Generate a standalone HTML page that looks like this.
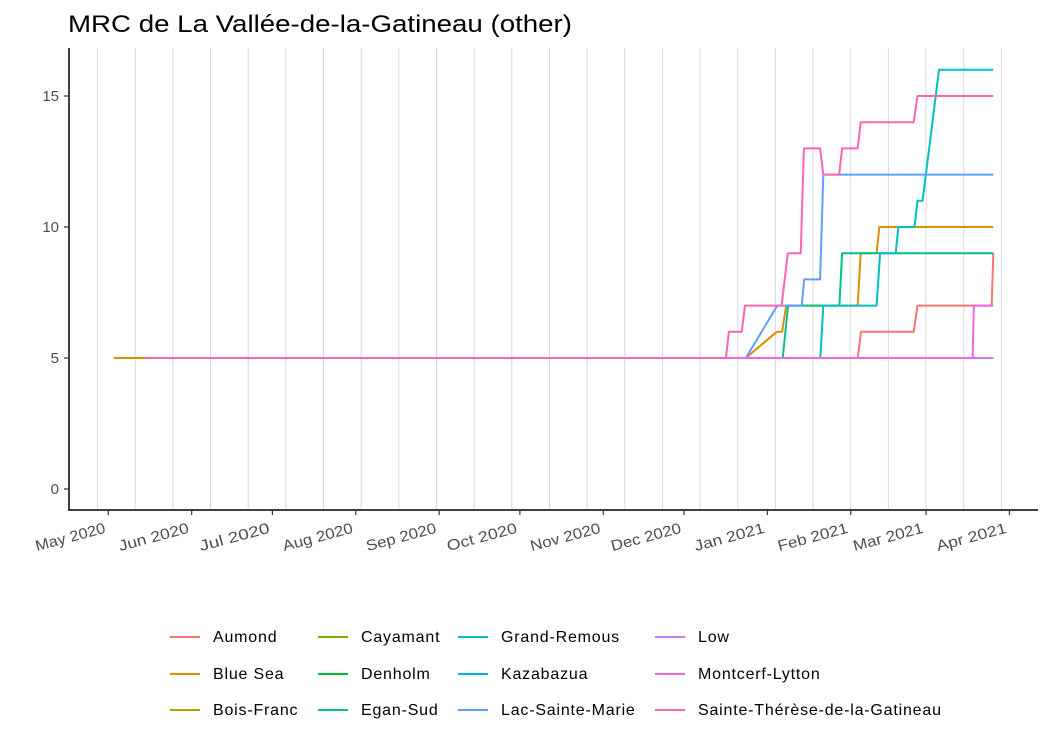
<!DOCTYPE html>
<html><head><meta charset="utf-8"><style>
body{margin:0;background:#fff}
svg{display:block;font-family:"Liberation Sans",Arial,sans-serif}
</style></head><body>
<svg id="chart" width="1050" height="750"></svg>
<script>
const seriesNames=["Aumond","Blue Sea","Bois-Franc","Cayamant","Denholm","Egan-Sud","Grand-Remous","Kazabazua","Lac-Sainte-Marie","Low","Montcerf-Lytton","Sainte-Thérèse-de-la-Gatineau"];
const seriesColors=["#F8766D","#DE8C00","#B79F00","#7CAE00","#00BA38","#00C08B","#00BFC4","#00B4F0","#619CFF","#C77CFF","#F564E3","#FF64B0"];
// days since 2020-05-01
const aumondDays=[14,278.6,279.8,299.4,300.8,328.4,329];
const aumondVals=[5,5,6,6,7,7,9];
const blueSeaDays=[2,237,248.5,250.5,252,278.6,279.7,285.6,286.6,329];
const blueSeaVals=[5,5,6,6,7,7,9,9,10,10];
const flatDays=[14,329];
const flatVals=[5,5];
const eganDays=[14,250.7,252.7,271.8,272.8,329];
const eganVals=[5,5,7,7,9,9];
const grandDays=[14,264.7,265.8,285.6,286.9,292.7,293.7,299.7,300.8,302.7,308.8,329];
const grandVals=[5,5,7,7,9,9,10,10,11,11,16,16];
const lacDays=[14,237,248.7,257.8,258.7,264.6,265.8,329];
const lacVals=[5,5,7,7,8,8,12,12];
const montDays=[14,321.3,321.8,329];
const montVals=[5,5,7,7];
const steDays=[13.6,229.6,230.7,235.5,236.7,250.3,252.6,257.4,258.6,264.6,265.8,271.7,272.8,278.6,279.7,299.4,300.8,329];
const steVals=[5,5,6,6,7,7,9,9,13,13,12,12,13,13,14,14,15,15];
const seriesDays=[aumondDays,blueSeaDays,flatDays,flatDays,flatDays,eganDays,grandDays,flatDays,lacDays,flatDays,montDays,steDays];
const seriesVals=[aumondVals,blueSeaVals,flatVals,flatVals,flatVals,eganVals,grandVals,flatVals,lacVals,flatVals,montVals,steVals];
const yTicks=[0,5,10,15];
const monthLabels=["May 2020","Jun 2020","Jul 2020","Aug 2020","Sep 2020","Oct 2020","Nov 2020","Dec 2020","Jan 2021","Feb 2021","Mar 2021","Apr 2021"];
const monthDays=[0,31,61,92,123,153,184,214,245,276,304,335];

const NS="http://www.w3.org/2000/svg";
const svg=document.getElementById('chart');
const X=d=>108.3+2.69*d;
const Y=v=>489-26.2*v;
function mk(tag,attrs,parent){const e=document.createElementNS(NS,tag);for(const k in attrs)e.setAttribute(k,attrs[k]);(parent||svg).appendChild(e);return e;}

const title=mk('text',{x:68,y:32,'font-size':24,fill:'#000',textLength:504,lengthAdjust:'spacingAndGlyphs'});
title.textContent="MRC de La Vallée-de-la-Gatineau (other)";



const grid=mk('g',{});


for(let d=-4;d<=335;d+=14){
  const l=mk('line',{x1:X(d),x2:X(d),y1:48,y2:510,stroke:'#d9d9d9','stroke-width':1},grid);
  
  
}

const lines=mk('g',{fill:'none','stroke-width':2,'stroke-linejoin':'round'});


for(let i=0;i<seriesNames.length;i++){
  const pts=seriesDays[i].map((d,j)=>X(d).toFixed(1)+','+Y(seriesVals[i][j]).toFixed(1)).join(' ');
  const p=mk('polyline',{points:pts,stroke:seriesColors[i]},lines);
  
  
}

const yAxis=mk('g',{});


mk('line',{x1:69,x2:69,y1:48,y2:510.5,stroke:'#000','stroke-width':1.5},yAxis);
yTicks.forEach(v=>{
  mk('line',{x1:64,x2:69,y1:Y(v),y2:Y(v),stroke:'#333','stroke-width':1.2},yAxis);
  const t=mk('text',{x:59,y:Y(v)+5,'font-size':15,fill:'#4d4d4d','text-anchor':'end'},yAxis);
  t.textContent=v;
  
  
});

const xAxis=mk('g',{});


mk('line',{x1:68.3,x2:1038,y1:510,y2:510,stroke:'#000','stroke-width':1.5},xAxis);
monthDays.forEach((d,i)=>{
  const x=X(d);
  mk('line',{x1:x,x2:x,y1:510,y2:515,stroke:'#333','stroke-width':1.2},xAxis);
  const t=mk('text',{x:x-2,y:532,'font-size':15,fill:'#4d4d4d','text-anchor':'end',textLength:72,lengthAdjust:'spacingAndGlyphs',transform:`rotate(-15 ${x} 532)`},xAxis);
  t.textContent=monthLabels[i];
  
  
});

const legend=mk('g',{});


const colX=[170,318,458,655];
const rowY=[637,674,710];
seriesNames.forEach((n,i)=>{
  const c=Math.floor(i/3),r=i%3;
  const g=mk('g',{},legend);
  
  
  mk('line',{x1:colX[c],x2:colX[c]+30,y1:rowY[r],y2:rowY[r],stroke:seriesColors[i],'stroke-width':2},g);
  const t=mk('text',{x:colX[c]+43,y:rowY[r]+5,'font-size':16,fill:'#000',style:'letter-spacing:0.8px'},g);
  t.textContent=n;
});
</script>
</body></html>
